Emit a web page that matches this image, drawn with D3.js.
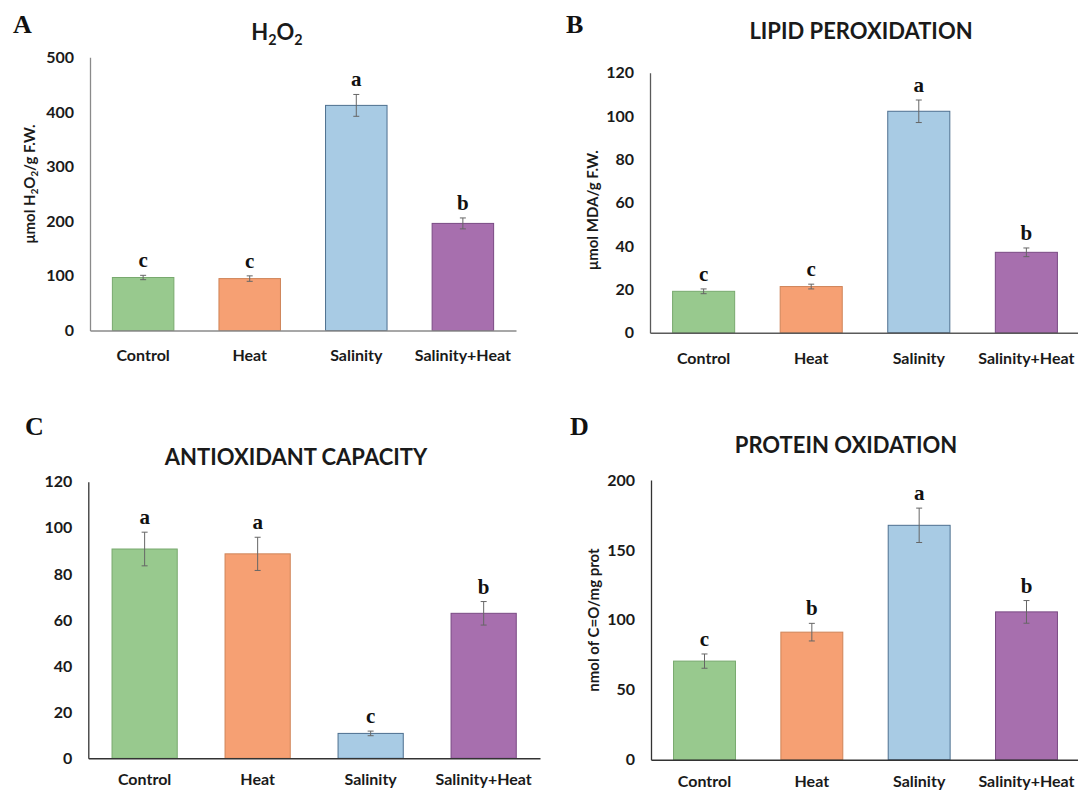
<!DOCTYPE html>
<html>
<head>
<meta charset="utf-8">
<script src="https://cdn.jsdelivr.net/npm/d3@7"></script>
<style>
  html, body { margin: 0; padding: 0; background: #fff; }
  svg { display: block; }
</style>
</head>
<body>
<svg id="chart" width="1078" height="794"></svg>
<script>
// ---------- DATA ----------
const categories = ["Control", "Heat", "Salinity", "Salinity+Heat"];
const barColors = ["#98c98e", "#f6a073", "#a8cbe4", "#a76fae"];
const barStrokes = ["#78a96e", "#cf8458", "#4d6f8f", "#7a4a84"];

const h2o2Values = [97, 95, 412, 196];
const h2o2Errors = [4, 5, 20, 10];
const h2o2Letters = ["c", "c", "a", "b"];
const h2o2Ticks = [0, 100, 200, 300, 400, 500];

const lipidValues = [19.1, 21.3, 102.2, 37.1];
const lipidErrors = [1.1, 1.1, 5.2, 2];
const lipidLetters = ["c", "c", "a", "b"];
const lipidTicks = [0, 20, 40, 60, 80, 100, 120];

const antioxValues = [90.8, 88.7, 10.8, 62.9];
const antioxErrors = [7.3, 7.2, 1, 5.1];
const antioxLetters = ["a", "a", "c", "b"];
const antioxTicks = [0, 20, 40, 60, 80, 100, 120];

const proteinValues = [70.5, 91.2, 167.6, 105.7];
const proteinErrors = [5.1, 6.3, 12.3, 8.1];
const proteinLetters = ["c", "b", "a", "b"];
const proteinTicks = [0, 50, 100, 150, 200];

// ---------- LAYOUT ----------
const sans = "Lato, 'Open Sans', Arial, sans-serif";
const serif = "'Liberation Serif', 'Times New Roman', serif";
const svg = d3.select("#chart");

const panels = [
  { key: "A", values: h2o2Values, errors: h2o2Errors, letters: h2o2Letters, ticks: h2o2Ticks,
    x0: 90, x1: 516, yTop: 57.3, yZero: 330.5, axisColor: "#8a8a8a",
    panelLetter: [13, 33], title: [{t: "H"}, {t: "2", sub: true}, {t: "O"}, {t: "2", sub: true}], titleX: 277, titleY: 40,
    yLabel: [{t: "μmol H"}, {t: "2", sub: true}, {t: "O"}, {t: "2", sub: true}, {t: "/g F.W."}], yLabelX: 35, yLabelY: 184,
    catY: 361 },
  { key: "B", values: lipidValues, errors: lipidErrors, letters: lipidLetters, ticks: lipidTicks,
    x0: 650, x1: 1080, yTop: 72.7, yZero: 332.7, axisColor: "#5a5a5a",
    panelLetter: [566, 33], title: [{t: "LIPID PEROXIDATION"}], titleX: 861, titleY: 38.5,
    yLabel: [{t: "μmol MDA/g F.W."}], yLabelX: 598, yLabelY: 210,
    catY: 364 },
  { key: "C", values: antioxValues, errors: antioxErrors, letters: antioxLetters, ticks: antioxTicks,
    x0: 88.3, x1: 540, yTop: 481.7, yZero: 758.3, axisColor: "#333",
    panelLetter: [25, 435], title: [{t: "ANTIOXIDANT CAPACITY"}], titleX: 296, titleY: 465,
    yLabel: null, catY: 785 },
  { key: "D", values: proteinValues, errors: proteinErrors, letters: proteinLetters, ticks: proteinTicks,
    x0: 651, x1: 1080, yTop: 480, yZero: 759.7, axisColor: "#333",
    panelLetter: [570, 435], title: [{t: "PROTEIN OXIDATION"}], titleX: 846, titleY: 453,
    yLabel: [{t: "nmol of C=O/mg prot"}], yLabelX: 599, yLabelY: 620,
    catY: 787 }
];

function addRichText(sel, parts, fontSize) {
  let shift = 0;
  parts.forEach(p => {
    const ts = sel.append("tspan").text(p.t);
    if (p.sub) {
      ts.attr("font-size", fontSize * 0.65).attr("dy", fontSize * 0.22 - shift);
      shift = fontSize * 0.22;
    } else {
      ts.attr("dy", -shift);
      shift = 0;
    }
  });
}

panels.forEach(p => {
  const g = svg.append("g");
  const x = d3.scaleBand().domain(categories).range([p.x0, p.x1])
    .paddingInner(0.423).paddingOuter(0.21);
  const y = d3.scaleLinear().domain([0, d3.max(p.ticks)]).range([p.yZero, p.yTop]);

  // y axis
  const yAxis = d3.axisLeft(y).tickValues(p.ticks).tickSize(0).tickPadding(16);
  const ya = g.append("g").attr("transform", `translate(${p.x0},0)`).call(yAxis);
  ya.select(".domain").attr("stroke", p.axisColor).attr("stroke-width", 1.3);
  ya.selectAll("text").attr("font-family", sans).attr("font-weight", "bold")
    .attr("font-size", 16).attr("fill", "#1a1a1a");

  // bars
  g.selectAll("rect.bar").data(p.values).enter().append("rect")
    .attr("class", "bar")
    .attr("x", (d, i) => x(categories[i]))
    .attr("width", x.bandwidth())
    .attr("y", d => y(d))
    .attr("height", d => y(0) - y(d))
    .attr("fill", (d, i) => barColors[i])
    .attr("stroke", (d, i) => barStrokes[i])
    .attr("stroke-width", 1);

  // x axis
  const xAxis = d3.axisBottom(x).tickSize(0).tickPadding(0);
  const xa = g.append("g").attr("transform", `translate(0,${p.yZero})`).call(xAxis);
  xa.select(".domain").attr("stroke", p.axisColor).attr("stroke-width", 1.5);
  xa.selectAll("text").attr("font-family", sans).attr("font-weight", "bold")
    .attr("font-size", 16).attr("fill", "#1a1a1a")
    .attr("y", p.catY - p.yZero).attr("dy", 0);

  // error bars
  const eg = g.append("g").attr("stroke", "#666").attr("stroke-width", 1);
  p.values.forEach((v, i) => {
    const cx = x(categories[i]) + x.bandwidth() / 2;
    const e = p.errors[i];
    eg.append("line").attr("x1", cx).attr("x2", cx).attr("y1", y(v + e)).attr("y2", y(v - e));
    eg.append("line").attr("x1", cx - 3).attr("x2", cx + 3).attr("y1", y(v + e)).attr("y2", y(v + e));
    eg.append("line").attr("x1", cx - 3).attr("x2", cx + 3).attr("y1", y(v - e)).attr("y2", y(v - e));
    g.append("text").attr("x", cx).attr("y", y(v + e) - 8)
      .attr("text-anchor", "middle").attr("font-family", serif).attr("font-weight", "bold")
      .attr("font-size", 21).attr("fill", "#111").text(p.letters[i]);
  });

  // panel letter
  svg.append("text").attr("x", p.panelLetter[0]).attr("y", p.panelLetter[1])
    .attr("font-family", serif).attr("font-weight", "bold").attr("font-size", 26)
    .attr("fill", "#111").text(p.key);

  // title
  const t = svg.append("text").attr("x", p.titleX).attr("y", p.titleY)
    .attr("text-anchor", "middle").attr("font-family", sans).attr("font-weight", "bold")
    .attr("font-size", 22).attr("fill", "#1a1a1a");
  addRichText(t, p.title, 22);

  // y label
  if (p.yLabel) {
    const yl = svg.append("text")
      .attr("transform", `translate(${p.yLabelX},${p.yLabelY}) rotate(-90)`)
      .attr("text-anchor", "middle").attr("font-family", sans).attr("font-weight", "bold")
      .attr("font-size", 15).attr("fill", "#1a1a1a");
    addRichText(yl, p.yLabel, 15);
  }
});
</script>
</body>
</html>
